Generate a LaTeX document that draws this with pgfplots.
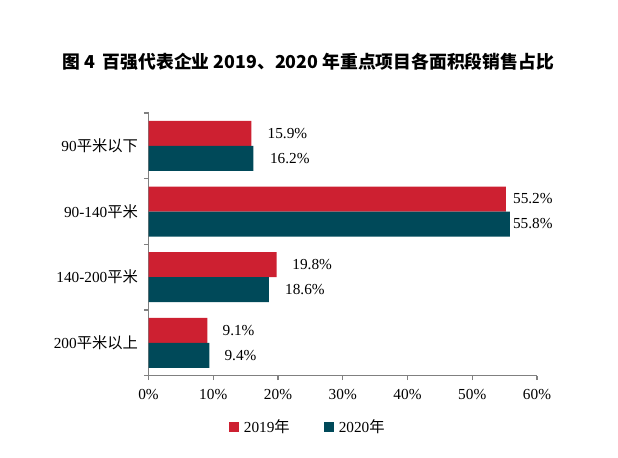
\documentclass[border=0pt]{standalone}
\usepackage{pgfplots}
\pgfplotsset{compat=1.18}
\usepackage{fontspec}
\setmainfont{Liberation Serif}
\newfontfamily\cjk{Noto Sans CJK SC}

\definecolor{c19}{RGB}{205,32,49}
\definecolor{c20}{RGB}{0,73,89}
\definecolor{axgray}{RGB}{128,128,128}

% y: 3 = top category
\pgfplotstableread{
y   v    off
3   15.9 16
2   55.2 7
1   19.8 15.5
0   9.1  15
}\tabA
\pgfplotstableread{
y   v    off
3   16.2 16.5
2   55.8 3
1   18.6 16
0   9.4  15
}\tabB

\begin{document}
\begin{tikzpicture}
\path (0,0) rectangle (618bp,458bp);
\node at (308bp,396bp) {\fontsize{17.8bp}{20bp}\selectfont\cjk\bfseries 图 4\ \ 百强代表企业 2019、2020 年重点项目各面积段销售占比};
\begin{axis}[
    at={(148.5bp,82.3bp)}, anchor=south west,
    scale only axis, width=388.5bp, height=262.7bp,
    xmin=0, xmax=60, ymin=-0.5, ymax=3.5,
    axis x line*=bottom, axis y line*=left,
    axis line style={axgray, line width=1.3bp},
    tick align=outside,
    major tick length=4.5bp,
    every tick/.append style={axgray, line width=1.3bp},
    /pgf/number format/assume math mode=true,
    font=\fontsize{15.3bp}{17bp}\selectfont,
    xtick={0,10,...,60},
    xticklabel={\pgfmathprintnumber{\tick}\%},
    xticklabel style={yshift=-6bp},
    ytick={-0.5,0.5,1.5,2.5,3.5}, yticklabels={},
    extra y ticks={0,1,2,3},
    extra y tick labels={200{\cjk 平米以上},140-200{\cjk 平米},90-140{\cjk 平米},90{\cjk 平米以下}},
    extra y tick style={major tick length=0pt, yticklabel style={xshift=-7bp}},
    xbar, bar width=25bp,
    nodes near coords={\pgfmathprintnumber[fixed,fixed zerofill,precision=1]{\pgfplotspointmeta}\%},
    visualization depends on={\thisrow{off} \as \off},
    every node near coord/.append style={anchor=west, inner sep=0pt, text=black, xshift=\off bp,
        font=\fontsize{15.3bp}{17bp}\selectfont},
    legend style={at={(0.41,-0.196)}, anchor=center, draw=none, legend columns=2,
        /tikz/every even column/.append style={column sep=32bp},
        font=\fontsize{15.3bp}{17bp}\selectfont},
    legend image code/.code={\fill[#1] (0bp,-5bp) rectangle (10bp,5bp); \path (13bp,0bp);},
]
\addplot[fill=c19, draw=none, bar shift=12.5bp, point meta=x] table[x=v, y=y] {\tabA};
\addlegendentry{2019{\cjk 年}}
\addplot[fill=c20, draw=none, bar shift=-12.5bp, point meta=x] table[x=v, y=y] {\tabB};
\addlegendentry{2020{\cjk 年}}
\end{axis}
\end{tikzpicture}
\end{document}
